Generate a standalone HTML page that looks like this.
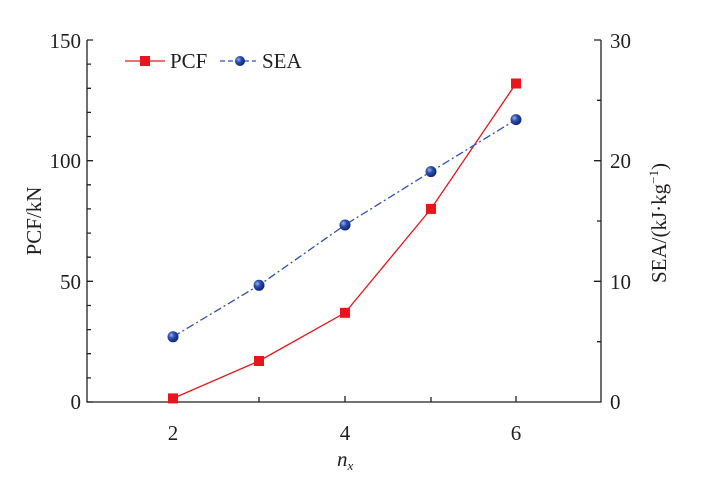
<!DOCTYPE html>
<html><head><meta charset="utf-8"><style>body{margin:0;background:#fff}svg{display:block}text{font-family:"Liberation Serif",serif;fill:#231f20}</style></head><body>
<svg width="703" height="484" viewBox="0 0 703 484">
<defs><radialGradient id="g" cx="0.35" cy="0.35" r="0.7"><stop offset="0" stop-color="#9bb3e6"/><stop offset="0.4" stop-color="#2c4fb0"/><stop offset="1" stop-color="#0d2270"/></radialGradient></defs>
<g stroke="#231f20" stroke-width="1.3" fill="none">
<path d="M87,40 V402 H601 V40"/>
<path d="M87,40 h6 M87,160.7 h6 M87,281.3 h6 M87,402 h6"/>
<path d="M87,64.1 h4 M87,88.3 h4 M87,112.4 h4 M87,136.5 h4 M87,184.8 h4 M87,208.9 h4 M87,233.1 h4 M87,257.2 h4 M87,305.5 h4 M87,329.6 h4 M87,353.7 h4 M87,377.9 h4"/>
<path d="M601,40 h-7 M601,160.7 h-7 M601,281.3 h-7 M601,100.3 h-4 M601,221 h-4 M601,341.7 h-4"/>
<path d="M173,402 v-6 M259,402 v-5 M345,402 v-6 M431,402 v-5 M516,402 v-6"/>
</g>
<g font-size="21">
<text x="81" y="48" text-anchor="end">150</text>
<text x="81" y="168" text-anchor="end">100</text>
<text x="81" y="289" text-anchor="end">50</text>
<text x="81" y="409" text-anchor="end">0</text>
<text x="610" y="48">30</text>
<text x="610" y="168">20</text>
<text x="610" y="289">10</text>
<text x="610" y="409">0</text>
<text x="173" y="440" text-anchor="middle">2</text>
<text x="345" y="440" text-anchor="middle">4</text>
<text x="516" y="440" text-anchor="middle">6</text>
<text x="337" y="466" font-style="italic">n<tspan font-size="13" dy="4">x</tspan></text>
<text transform="translate(41,221) rotate(-90)" text-anchor="middle">PCF/kN</text>
<text transform="translate(666,223) rotate(-90)" text-anchor="middle">SEA/(kJ·kg<tspan font-size="13" dy="-8">−1</tspan><tspan dy="8">)</tspan></text>
<text x="170" y="68">PCF</text>
<text x="262" y="68">SEA</text>
</g>
<line x1="125" y1="61" x2="165" y2="61" stroke="#e8161c" stroke-width="1.3"/>
<rect x="140" y="56" width="10" height="10" fill="#e8161c"/>
<line x1="220" y1="61" x2="256" y2="61" stroke="#2e50b0" stroke-width="1.3" stroke-dasharray="5,3"/>
<circle cx="240" cy="61" r="5" fill="url(#g)"/>
<polyline points="173,398.4 259,361 345,312.8 431,208.9 516,83.5" fill="none" stroke="#e8161c" stroke-width="1.3"/>
<polyline points="173,336.8 259,285.3 345,225 431,171.6 516,119.6" fill="none" stroke="#2e50b0" stroke-width="1.3" stroke-dasharray="8,3,2,3"/>
<g fill="#e8161c"><rect x="168" y="393.4" width="10" height="10"/><rect x="254" y="356" width="10" height="10"/><rect x="340" y="307.8" width="10" height="10"/><rect x="426" y="203.9" width="10" height="10"/><rect x="511" y="78.5" width="10" height="10"/></g>
<g fill="url(#g)"><circle cx="173" cy="336.8" r="5.5"/><circle cx="259" cy="285.3" r="5.5"/><circle cx="345" cy="225" r="5.5"/><circle cx="431" cy="171.6" r="5.5"/><circle cx="516" cy="119.6" r="5.5"/></g>
</svg></body></html>
